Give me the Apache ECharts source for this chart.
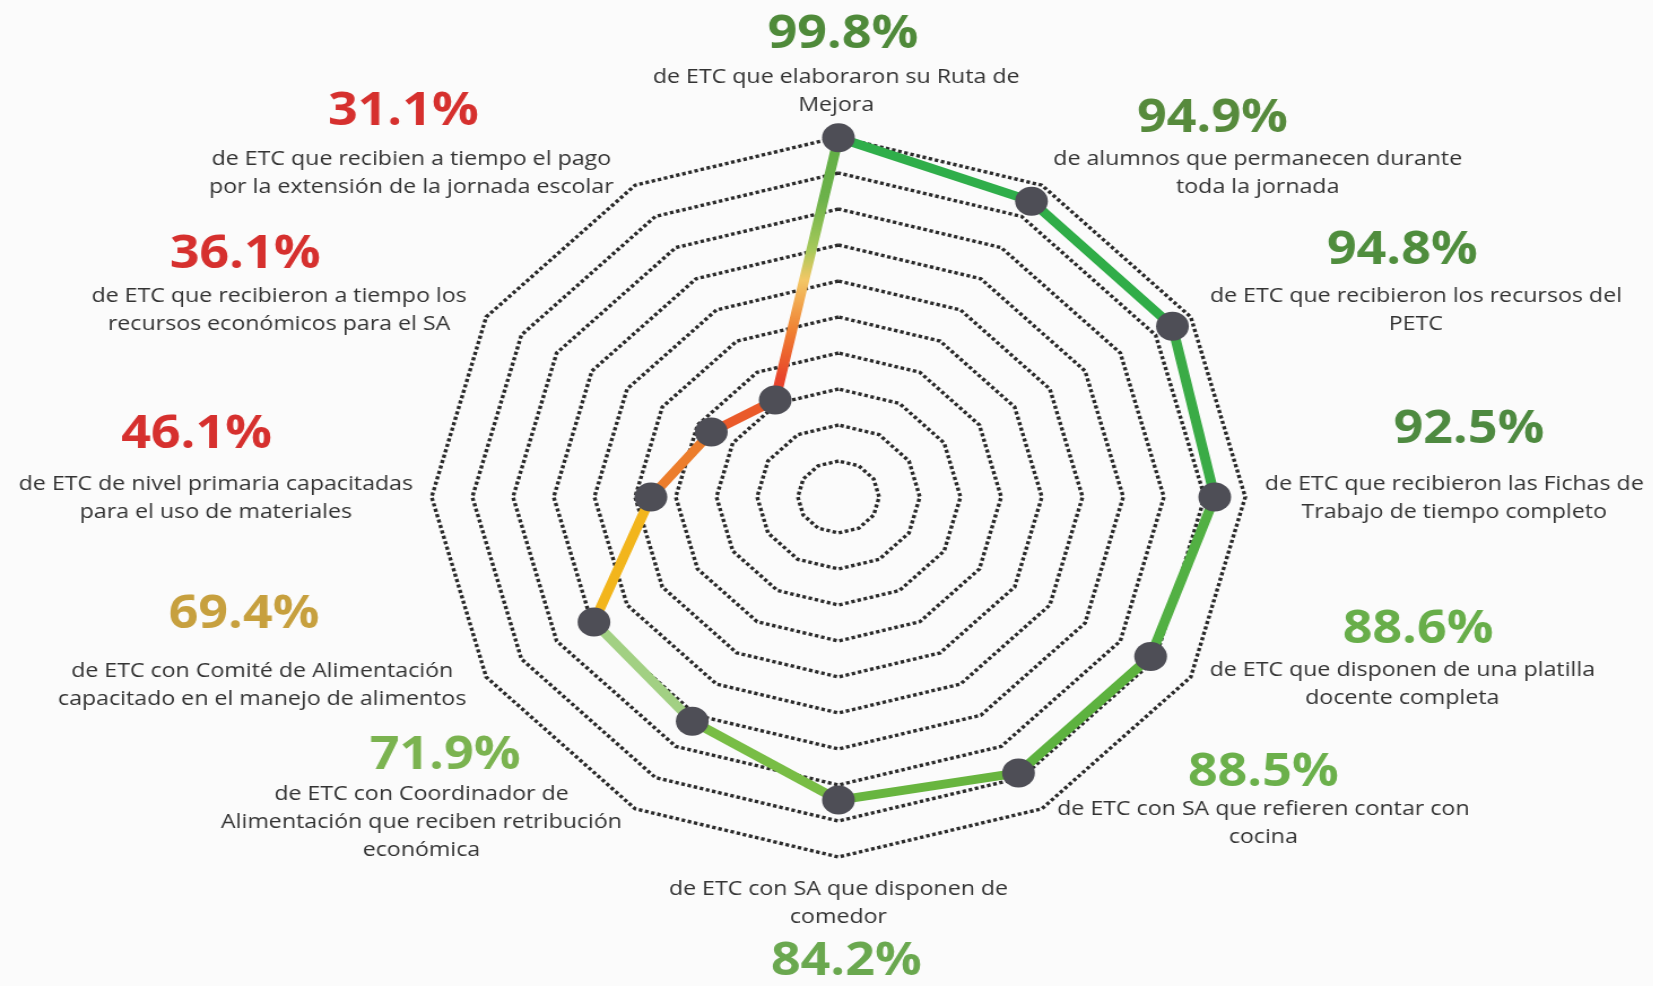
<!DOCTYPE html>
<html>
<head>
<meta charset="utf-8">
<script src="https://cdn.jsdelivr.net/npm/echarts@6/dist/echarts.min.js"></script>
<style>
  html, body { margin: 0; padding: 0; background: #fbfbfb; overflow: hidden; width: 1653px; height: 986px; }
  #chart { position: absolute; left: 0; top: 0; width: 1463px; height: 986px; transform-origin: 0 0; transform: scaleX(1.13); }
</style>
</head>
<body>
<div id="chart"></div>
<script>
// ---- data ----
const categories = [
  "de ETC que elaboraron su Ruta de\nMejora",
  "de alumnos que permanecen durante\ntoda la jornada",
  "de ETC que recibieron los recursos del\nPETC",
  "de ETC que recibieron las Fichas de\nTrabajo de tiempo completo",
  "de ETC que disponen de una platilla\ndocente completa",
  "de ETC con SA que refieren contar con\ncocina",
  "de ETC con SA que disponen de\ncomedor",
  "de ETC con Coordinador de\nAlimentación que reciben retribución\neconómica",
  "de ETC con Comité de Alimentación\ncapacitado en el manejo de alimentos",
  "de ETC de nivel primaria capacitadas\npara el uso de materiales",
  "de ETC que recibieron a tiempo los\nrecursos económicos para el SA",
  "de ETC que recibien a tiempo el pago\npor la extensión de la jornada escolar"
];
const values = [99.8, 94.9, 94.8, 92.5, 88.6, 88.5, 84.2, 71.9, 69.4, 46.1, 36.1, 31.1];
const valueLabels = ["99.8%", "94.9%", "94.8%", "92.5%", "88.6%", "88.5%", "84.2%", "71.9%", "69.4%", "46.1%", "36.1%", "31.1%"];

// ---- styles ----
const pctColors = ['#4f8a3a', '#568a3c', '#4f8d3d', '#4e8a40', '#68ae4a', '#6bb04b', '#6aa84f', '#7bb350', '#c7a03e', '#d6302e', '#d6302e', '#d6302e'];
const segColors = ['#2fae4a', '#30ad48', '#3aab46', '#52b043', '#5db23f', '#68b53f', '#78bd45', '#a2d083', '#f2b51c', '#ec7d2c', '#ea5a2a', null];
const closingGradient = new echarts.graphic.LinearGradient(0, 0, 0, 1, [
  { offset: 0, color: '#5fae45' },
  { offset: 0.24, color: '#6cb24a' },
  { offset: 0.43, color: '#a6c95a' },
  { offset: 0.54, color: '#f3c766' },
  { offset: 0.73, color: '#f08032' },
  { offset: 0.9, color: '#e8452b' },
  { offset: 1, color: '#e63a2a' }
]);
// layout (internal, pre-stretch pixels)
const CENTER = [742, 497];
const RADIUS = 360;
const pctPos = [[746, 35], [1073, 119], [1241, 251], [1300, 430], [1255, 630], [1118, 773], [749, 962], [394, 756], [216, 615], [174, 435], [217, 255], [357, 112]];
const descPos = [[740, 91], [1113, 173], [1253, 310], [1287, 498], [1241, 684], [1118, 823], [742, 903], [373, 822], [232, 685], [191, 498], [247, 310], [364, 173]];

const chart = echarts.init(document.getElementById('chart'), null, { renderer: 'canvas' });

const n = values.length;
const step = 360 / n; // one spoke per category on a 0-360 angle scale
const segmentSeries = values.map((v, i) => {
  const j = i + 1;
  return {
    type: 'line',
    coordinateSystem: 'polar',
    data: [[v, i * step], [values[j % n], j * step]],
    symbol: 'none',
    silent: true,
    clip: false,
    z: 3,
    lineStyle: { width: 9, color: segColors[i] || closingGradient, cap: 'round', opacity: 1 }
  };
});

const graphics = [];
values.forEach((v, i) => {
  graphics.push({
    type: 'text', x: pctPos[i][0], y: pctPos[i][1], z: 10,
    style: {
      text: valueLabels[i], fill: pctColors[i],
      font: 'bold 46px "Open Sans", sans-serif',
      align: 'center', verticalAlign: 'middle', textAlign: 'center', textVerticalAlign: 'middle'
    }
  });
  graphics.push({
    type: 'text', x: descPos[i][0], y: descPos[i][1], z: 10,
    style: {
      text: categories[i], fill: '#333333',
      font: '20.5px "Open Sans", sans-serif', lineHeight: 28,
      align: 'center', verticalAlign: 'middle', textAlign: 'center', textVerticalAlign: 'middle'
    }
  });
});

chart.setOption({
  backgroundColor: '#fbfbfb',
  animation: false,
  radar: {
    center: CENTER,
    radius: RADIUS,
    startAngle: 90,
    shape: 'polygon',
    splitNumber: 10,
    indicator: categories.map(name => ({ name: name, min: 0, max: 100 })),
    axisName: { show: false },
    axisLine: { show: false },
    axisTick: { show: false },
    axisLabel: { show: false },
    splitArea: { show: false },
    splitLine: { lineStyle: { color: '#2a2a2a', width: 3.4, type: [3.2, 2.4] } }
  },
  polar: { center: CENTER, radius: RADIUS },
  angleAxis: {
    type: 'value', min: 0, max: 360, startAngle: 90, clockwise: true,
    axisLine: { show: false }, axisTick: { show: false }, axisLabel: { show: false }, splitLine: { show: false }
  },
  radiusAxis: {
    type: 'value', min: 0, max: 100,
    axisLine: { show: false }, axisTick: { show: false }, axisLabel: { show: false }, splitLine: { show: false }
  },
  graphic: graphics,
  series: segmentSeries.concat([{
    type: 'scatter',
    coordinateSystem: 'polar',
    data: values.map((v, i) => [v, i * step]),
    symbol: 'circle',
    symbolSize: 29,
    clip: false,
    z: 5,
    itemStyle: { color: '#4e4e56', opacity: 1 }
  }])
});
</script>
</body>
</html>
